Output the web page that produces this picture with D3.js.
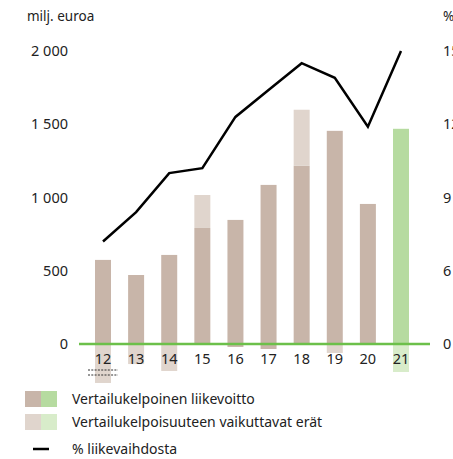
<!DOCTYPE html>
<html>
<head>
<meta charset="utf-8">
<script src="https://cdn.jsdelivr.net/npm/d3@7/dist/d3.min.js"></script>
<style>
  html, body { margin: 0; padding: 0; background: #fff; }
  svg text { font-family: "Noto Sans", "DejaVu Sans", sans-serif; fill: #222; }
</style>
</head>
<body>
<svg id="chart" width="453" height="459"></svg>
<script>
// Vuodet (20xx)
const years = ["12", "13", "14", "15", "16", "17", "18", "19", "20", "21"];
// Vertailukelpoinen liikevoitto, milj. euroa
const comparableEbit = [574, 471, 608, 792, 847, 1086, 1216, 1455, 956, 1469];
// Vertailukelpoisuuteen vaikuttavat erät, milj. euroa
const itemsAffecting = [-266, -137, -184, 225, -20, -34, 383, -61, 0, -191];
// Vertailukelpoinen liikevoitto, % liikevaihdosta
const marginPct = [7.2, 8.4, 10.0, 10.2, 12.3, 13.4, 14.5, 13.9, 11.9, 15.0];
// Akselien jaotukset
const leftTicks = [0, 500, 1000, 1500, 2000];
const rightTicks = [0, 6, 9, 12, 15];

const colors = {
  base: "#c8b5a9", baseLight: "#e0d5cd",
  green: "#b6dba0", greenLight: "#d8ecca",
  zero: "#6cc04a", line: "#000"
};

const svg = d3.select("#chart");

const y = d3.scaleLinear().domain([0, 2000]).range([344, 51]);
// Prosenttiakseli on katkaistu: 0 ... 6 puristettu samaan väliin kuin 0 ... 500
const yPct = d3.scaleLinear().domain([0, 6, 15]).range([y(0), y(500), y(2000)]);
const x = d3.scaleBand().domain(years).range([86.45, 417.55])
  .paddingInner(0.517).paddingOuter(0.2585);
const cx = d => x(d) + x.bandwidth() / 2;

const fmt = v => d3.format(",")(v).replace(/,/g, " ");

// Vasen akseli
const leftAxis = svg.append("g").attr("transform", "translate(68,0)")
  .call(d3.axisLeft(y).tickValues(leftTicks).tickSize(0).tickPadding(0).tickFormat(fmt));
leftAxis.select(".domain").remove();
leftAxis.selectAll("text").attr("font-size", 14.5).attr("fill", "#222");

// Oikea akseli
const rightAxis = svg.append("g").attr("transform", "translate(443,0)")
  .call(d3.axisRight(yPct).tickValues(rightTicks).tickSize(0).tickPadding(0));
rightAxis.select(".domain").remove();
rightAxis.selectAll("text").attr("font-size", 14.5).attr("fill", "#222");

svg.append("text").attr("x", 27).attr("y", 21).attr("font-size", 13.5).text("milj. euroa");
svg.append("text").attr("x", 443).attr("y", 21).attr("font-size", 13.5).text("%");

const isLast = i => i === years.length - 1;

// Vertailukelpoinen liikevoitto
svg.append("g").selectAll("rect").data(years).join("rect")
  .attr("x", d => x(d))
  .attr("width", x.bandwidth())
  .attr("y", (d, i) => y(comparableEbit[i]))
  .attr("height", (d, i) => y(0) - y(comparableEbit[i]))
  .attr("fill", (d, i) => isLast(i) ? colors.green : colors.base);

// Vertailukelpoisuuteen vaikuttavat erät: positiiviset pinotaan päälle, negatiiviset nollan alle
svg.append("g").selectAll("rect").data(years).join("rect")
  .attr("x", d => x(d))
  .attr("width", x.bandwidth())
  .attr("y", (d, i) => itemsAffecting[i] >= 0 ? y(comparableEbit[i] + itemsAffecting[i]) : y(0))
  .attr("height", (d, i) => Math.abs(y(0) - y(itemsAffecting[i])))
  .attr("fill", (d, i) => isLast(i) ? colors.greenLight : (itemsAffecting[i] > -40 && itemsAffecting[i] < 0 ? colors.base : colors.baseLight));

// Nollaviiva
svg.append("line")
  .attr("x1", 79).attr("x2", 430)
  .attr("y1", y(0)).attr("y2", y(0))
  .attr("stroke", colors.zero).attr("stroke-width", 2.5);

// Vuosien nimet
svg.append("g").selectAll("text").data(years).join("text")
  .attr("x", d => cx(d))
  .attr("y", 364)
  .attr("text-anchor", "middle")
  .attr("font-size", 14.5)
  .text(d => d);

// Alaviitemerkintä vuoden 2012 alla
[370, 375].forEach(yy => {
  svg.append("line")
    .attr("x1", cx("12") - 15).attr("x2", cx("12") + 15)
    .attr("y1", yy).attr("y2", yy)
    .attr("stroke", "#333").attr("stroke-width", 1)
    .attr("stroke-dasharray", "2,1.3");
});

// Liikevoitto-% -viiva
const line = d3.line().x((d, i) => cx(years[i])).y(d => yPct(d));
svg.append("path").datum(marginPct)
  .attr("d", line)
  .attr("fill", "none")
  .attr("stroke", colors.line)
  .attr("stroke-width", 2.5)
  .attr("stroke-linejoin", "miter");

// Selite
const legend = svg.append("g");
const swatchRows = [
  { y: 391, c1: colors.base, c2: colors.green, label: "Vertailukelpoinen liikevoitto" },
  { y: 414, c1: colors.baseLight, c2: colors.greenLight, label: "Vertailukelpoisuuteen vaikuttavat erät" }
];
swatchRows.forEach(r => {
  legend.append("rect").attr("x", 25).attr("y", r.y).attr("width", 16).attr("height", 16).attr("fill", r.c1);
  legend.append("rect").attr("x", 41).attr("y", r.y).attr("width", 16).attr("height", 16).attr("fill", r.c2);
  legend.append("text").attr("x", 72).attr("y", r.y + 13).attr("font-size", 14).text(r.label);
});
legend.append("line").attr("x1", 33).attr("x2", 49).attr("y1", 449).attr("y2", 449)
  .attr("stroke", "#000").attr("stroke-width", 2.5);
legend.append("text").attr("x", 72).attr("y", 454).attr("font-size", 14).text("% liikevaihdosta");
</script>
</body>
</html>
